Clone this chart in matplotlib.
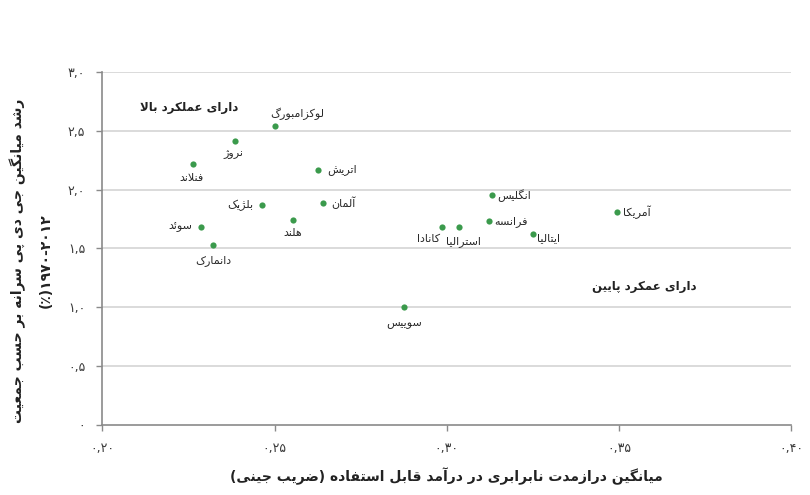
import matplotlib
matplotlib.use("Agg")
import matplotlib.pyplot as plt

# data
countries = ["لوکزامبورگ", "نروژ", "فنلاند", "اتریش", "بلژیک", "آلمان", "هلند", "سوئد",
             "دانمارک", "کانادا", "استرالیا", "انگلیس", "فرانسه", "ایتالیا", "آمریکا", "سوییس"]
gini = [0.250, 0.2385, 0.2264, 0.2626, 0.2464, 0.2640, 0.2554, 0.2286,
        0.2321, 0.2986, 0.3036, 0.3131, 0.3123, 0.3250, 0.3495, 0.2876]
growth = [2.54, 2.41, 2.22, 2.17, 1.87, 1.89, 1.74, 1.68,
          1.53, 1.68, 1.68, 1.95, 1.73, 1.62, 1.81, 1.00]

x_ticks = [0.20, 0.25, 0.30, 0.35, 0.40]
x_tick_labels = ["۰,۲۰", "۰,۲۵", "۰,۳۰", "۰,۳۵", "۰,۴۰"]
y_ticks = [0, 0.5, 1.0, 1.5, 2.0, 2.5, 3.0]
y_tick_labels = ["۰", "۰,۵", "۱,۰", "۱,۵", "۲,۰", "۲,۵", "۳,۰"]

x_title = "میانگین درازمدت نابرابری در درآمد قابل استفاده (ضریب جینی)"
y_title = "رشد میانگین جی دی پی سرانه بر حسب جمعیت"
y_title2 = "(٪)۱۹۷۰-۲۰۱۲"
high_text = "دارای عملکرد بالا"
low_text = "دارای عمکرد پایین"

# label placement: (dx, dy) in points, horizontal alignment
placement = {
    "لوکزامبورگ": (16, 9, "center"),
    "نروژ": (-1, -9, "center"),
    "فنلاند": (-1, -10, "center"),
    "اتریش": (7, 0, "left"),
    "بلژیک": (-6, 0, "right"),
    "آلمان": (6, 0, "left"),
    "هلند": (0, -9, "center"),
    "سوئد": (-6, 0, "right"),
    "دانمارک": (0, -11.5, "center"),
    "کانادا": (-1.5, -8.6, "right"),
    "استرالیا": (2.7, -10.5, "center"),
    "انگلیس": (4, 0, "left"),
    "فرانسه": (4, 0, "left"),
    "ایتالیا": (3, -3, "left"),
    "آمریکا": (4.3, 0, "left"),
    "سوییس": (0, -11, "center"),
}

# minimal persian shaping (matplotlib has no complex text layout)
FORMS = {
    'ا': (0xFE8D, 0xFE8E, None, None),
    'آ': (0xFE81, 0xFE82, None, None),
    'ب': (0xFE8F, 0xFE90, 0xFE91, 0xFE92),
    'پ': (0xFB56, 0xFB57, 0xFB58, 0xFB59),
    'ت': (0xFE95, 0xFE96, 0xFE97, 0xFE98),
    'ج': (0xFE9D, 0xFE9E, 0xFE9F, 0xFEA0),
    'ح': (0xFEA1, 0xFEA2, 0xFEA3, 0xFEA4),
    'د': (0xFEA9, 0xFEAA, None, None),
    'ر': (0xFEAD, 0xFEAE, None, None),
    'ز': (0xFEAF, 0xFEB0, None, None),
    'ژ': (0xFB8A, 0xFB8B, None, None),
    'س': (0xFEB1, 0xFEB2, 0xFEB3, 0xFEB4),
    'ش': (0xFEB5, 0xFEB6, 0xFEB7, 0xFEB8),
    'ض': (0xFEBD, 0xFEBE, 0xFEBF, 0xFEC0),
    'ع': (0xFEC9, 0xFECA, 0xFECB, 0xFECC),
    'ف': (0xFED1, 0xFED2, 0xFED3, 0xFED4),
    'ق': (0xFED5, 0xFED6, 0xFED7, 0xFED8),
    'ک': (0xFB8E, 0xFB8F, 0xFB90, 0xFB91),
    'گ': (0xFB92, 0xFB93, 0xFB94, 0xFB95),
    'ل': (0xFEDD, 0xFEDE, 0xFEDF, 0xFEE0),
    'م': (0xFEE1, 0xFEE2, 0xFEE3, 0xFEE4),
    'ن': (0xFEE5, 0xFEE6, 0xFEE7, 0xFEE8),
    'ه': (0xFEE9, 0xFEEA, 0xFEEB, 0xFEEC),
    'و': (0xFEED, 0xFEEE, None, None),
    'ی': (0xFBFC, 0xFBFD, 0xFBFE, 0xFBFF),
    'ئ': (0xFE89, 0xFE8A, 0xFE8B, 0xFE8C),
}
LAM_ALEF = {'ا': (0xFEFB, 0xFEFC), 'آ': (0xFEF5, 0xFEF6)}


def joins_next(c):
    return c in FORMS and FORMS[c][2] is not None


def fa(text):
    out = []
    i = 0
    while i < len(text):
        c = text[i]
        prev = text[i - 1] if i > 0 else ''
        nxt = text[i + 1] if i + 1 < len(text) else ''
        if c not in FORMS:
            out.append(c)
            i += 1
            continue
        if c == 'ل' and nxt in LAM_ALEF:
            iso, fin = LAM_ALEF[nxt]
            out.append(chr(fin if joins_next(prev) else iso))
            i += 2
            continue
        iso, fin, ini, med = FORMS[c]
        p = joins_next(prev)
        n = ini is not None and nxt in FORMS
        if p and n:
            g = med
        elif p:
            g = fin
        elif n:
            g = ini
        else:
            g = iso
        out.append(chr(g))
        i += 1
    s = ''.join(out)[::-1]
    return s.translate(str.maketrans('()', ')('))


plt.rcParams['font.family'] = ['DejaVu Sans']

fig = plt.figure(figsize=(8.1, 4.95), dpi=100)
ax = fig.add_axes([0.1263, 0.1408, 0.8506, 0.7144])

ax.set_xlim(0.20, 0.40)
ax.set_ylim(0, 3.0)

for v in y_ticks[1:]:
    ax.axhline(v, color='#d4d4d4', lw=1.2, zorder=0)

ax.scatter(gini, growth, s=20, color='#3b9a4c', zorder=3, linewidths=0)

for name, x, y in zip(countries, gini, growth):
    dx, dy, ha = placement[name]
    ax.annotate(fa(name), (x, y), xytext=(dx, dy), textcoords='offset points',
                ha=ha, va='center', fontsize=8, color='#2a2a2a')

ax.text(0.2109, 2.70, fa(high_text), ha='left', va='center', fontsize=8.5,
        fontweight='bold', color='#222222')
ax.text(0.3421, 1.176, fa(low_text), ha='left', va='center', fontsize=8.5,
        fontweight='bold', color='#222222')

for side in ['top', 'right']:
    ax.spines[side].set_visible(False)
for side in ['left', 'bottom']:
    ax.spines[side].set_color('#8a8a8a')
    ax.spines[side].set_linewidth(1.2)

ax.set_xticks(x_ticks)
ax.set_xticklabels(x_tick_labels)
ax.set_yticks(y_ticks)
ax.set_yticklabels(y_tick_labels)
ax.tick_params(axis='both', length=4.3, width=1.0, color='#8a8a8a',
               labelsize=9, labelcolor='#3a3a3a', pad=8)

ax.set_xlabel(fa(x_title), fontsize=10, fontweight='bold', color='#222222')
ax.xaxis.set_label_coords(0.5, -0.118)

# two-line y title placed as separate rotated texts
fig.text(18 / 810, 0.473, fa(y_title), rotation=90, ha='center', va='center',
         fontsize=10, fontweight='bold', color='#222222')
fig.text(46 / 810, 0.473, y_title2, rotation=90, ha='center', va='center',
         fontsize=10, fontweight='bold', color='#222222')

fig.savefig('out.png', dpi=100)
